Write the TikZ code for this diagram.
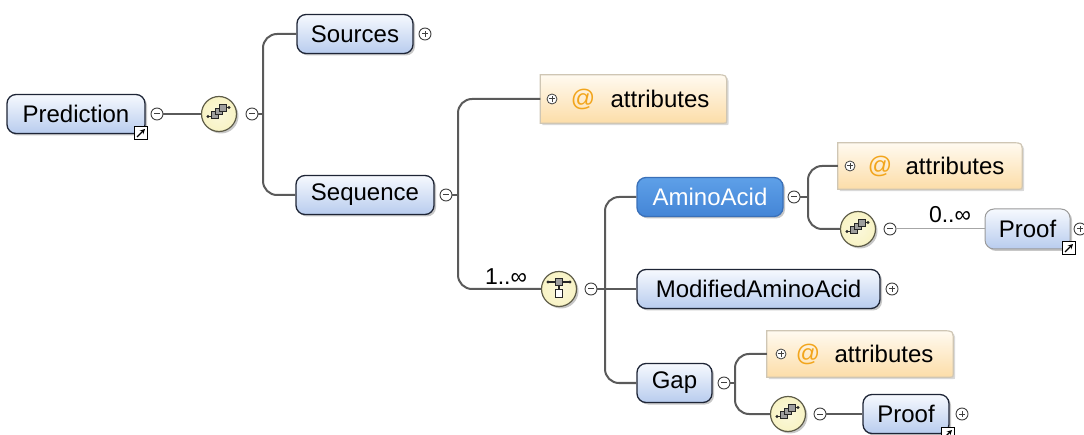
\documentclass[tikz,border=0pt]{standalone}
\usepackage{fontspec}
\setmainfont{Liberation Sans}
\usetikzlibrary{shadows,arrows.meta}
\definecolor{eltop}{HTML}{F6F9FE}
\definecolor{elbot}{HTML}{B8CCEE}
\definecolor{elborder}{HTML}{1E2536}
\definecolor{amtop}{HTML}{5EA0E8}
\definecolor{ambot}{HTML}{4485D6}
\definecolor{amborder}{HTML}{3A70B8}
\definecolor{attop}{HTML}{FFFAF0}
\definecolor{atbot}{HTML}{FCDDA8}
\definecolor{atborder}{HTML}{CFC6B4}
\definecolor{atsign}{HTML}{F2A51C}
\definecolor{compfill}{HTML}{F8F3C4}
\definecolor{compborder}{HTML}{5E5C48}
\definecolor{conncol}{HTML}{5A5A5A}
\definecolor{togc}{HTML}{404040}
\definecolor{optborder}{HTML}{9A9A9A}
\newcommand\attbox[5]{%
  \node[minimum width=#4, minimum height=#5, inner sep=0pt] (#1) at (#2,#3) {};
  \fill[black!15] ([xshift=2pt,yshift=-2pt]#1.south west) -- ([xshift=2pt,yshift=-2pt]#1.north west)
    -- ([xshift=-8pt,yshift=-2pt]#1.north east) .. controls ([xshift=2pt,yshift=-2pt]#1.north east) .. ([xshift=2pt,yshift=-12pt]#1.north east)
    -- ([xshift=2pt,yshift=1pt]#1.south east) .. controls ([xshift=2pt,yshift=-2pt]#1.south east) .. ([xshift=-1pt,yshift=-2pt]#1.south east) -- cycle;
  \shade[top color=attop, bottom color=atbot, draw=atborder, line width=1.2pt]
    (#1.south west) -- (#1.north west)
    -- ([xshift=-10pt]#1.north east) .. controls (#1.north east) .. ([yshift=-10pt]#1.north east)
    -- ([yshift=3pt]#1.south east) .. controls (#1.south east) .. ([xshift=-3pt]#1.south east) -- cycle;
}
\newcommand\seqglyph[1]{%
  \begin{scope}[shift={(#1.center)}]
    \draw[line width=1.1pt, black!85] (-11,2.5) -- (-6,2.5);
    \fill[black!85] (-11,2.5) circle (1.6);
    \draw[line width=1.1pt, black!85] (6,-6.5) -- (10,-6.5);
    \fill[black!85] (10,-6.5) circle (1.6);
    \filldraw[fill=black!38, draw=black!85, line width=0.9pt] (-7.5,-2.5) rectangle (-1,4);
    \filldraw[fill=black!38, draw=black!85, line width=0.9pt] (-3.3,-5.8) rectangle (3.2,0.7);
    \filldraw[fill=black!38, draw=black!85, line width=0.9pt] (0.8,-9.3) rectangle (7.3,-2.8);
  \end{scope}}
\newcommand\choiceglyph[1]{%
  \begin{scope}[shift={(#1.center)}]
    \draw[line width=1.1pt, black!85] (-11,-7) -- (11,-7);
    \fill[black!85] (-11,-7) circle (1.6);
    \fill[black!85] (11,-7) circle (1.6);
    \draw[line width=1.1pt, black!85] (0,-4) -- (0,1);
    \filldraw[fill=black!38, draw=black!85, line width=0.9pt] (-3.5,-10.5) rectangle (3.5,-3.5);
    \filldraw[fill=white, draw=black!85, line width=0.9pt] (-3.7,0.8) rectangle (3.7,8.2);
  \end{scope}}
\begin{document}
\begin{tikzpicture}[x=1pt,y=-1pt,
  shad/.style={drop shadow={shadow xshift=2pt, shadow yshift=-2pt, fill=black, opacity=0.22}},
  elem/.style={rectangle, rounded corners=9pt, draw=elborder, line width=1.3pt,
    top color=eltop, bottom color=elbot, text=black, inner sep=0pt,
    font=\fontsize{24}{28}\selectfont, minimum height=39pt, shad},
  optelem/.style={elem, draw=optborder, line width=1pt},
  selelem/.style={elem, draw=amborder, top color=amtop, bottom color=ambot, text=white},
  comp/.style={circle, minimum size=35pt, inner sep=0pt, draw=compborder, line width=1.2pt,
    inner color=compfill!60!white, outer color=compfill, shad},
  tog/.style={circle, draw=togc, line width=0.9pt, fill=white, minimum size=12pt, inner sep=0pt},
  minus/.style={tog, path picture={\draw[line width=1pt, togc] ([xshift=-3pt]path picture bounding box.center) -- ([xshift=3pt]path picture bounding box.center);}},
  plus/.style={tog, path picture={\draw[line width=1pt, togc] ([xshift=-3pt]path picture bounding box.center) -- ([xshift=3pt]path picture bounding box.center) ([yshift=-3pt]path picture bounding box.center) -- ([yshift=3pt]path picture bounding box.center);}},
  smallplus/.style={plus, minimum size=10pt, line width=0.8pt},
  ref/.style={rectangle, draw=black, line width=1pt, fill=white, minimum size=13pt, inner sep=0pt,
    path picture={\draw[line width=1.3pt, -{Stealth[length=5pt,width=5pt]}] ([xshift=-4pt,yshift=-4pt]path picture bounding box.center) -- ([xshift=4pt,yshift=4pt]path picture bounding box.center);}},
  conn/.style={draw=conncol, line width=2pt},
  optconn/.style={draw=black!35, line width=1pt},
  branch/.style={conn, rounded corners=14pt},
  lbl/.style={font=\fontsize{23}{27}\selectfont, text=black, inner sep=0pt},
  atext/.style={font=\fontsize{24}{28}\selectfont, text=black, inner sep=0pt},
  atsym/.style={font=\fontsize{24}{28}\selectfont, text=atsign, inner sep=0pt}]
\useasboundingbox (0,0) rectangle (1084,435);

% coordinates of branch points
\coordinate (b1) at (263,114);
\coordinate (b2) at (458,195);
\coordinate (b3) at (605,289);
\coordinate (b4) at (808,197);
\coordinate (b5) at (735,383);

% attribute boxes
\attbox{att1}{633.5}{99}{186}{48}
\attbox{att2}{930}{166}{184}{46}
\attbox{att3}{860}{354}{186}{46}

% elements
\node[elem, minimum width=138pt] (pred) at (76,114) {Prediction};
\node[comp] (s1) at (219,114) {};
\node[elem, minimum width=116pt] (sources) at (355,34) {Sources};
\node[elem, minimum width=138pt] (sequence) at (365,195) {Sequence};
\node[comp] (ch) at (559,289) {};
\node[selelem, minimum width=146pt] (amino) at (710,197) {AminoAcid};
\node[elem, minimum width=243pt] (modified) at (758.5,289) {ModifiedAminoAcid};
\node[elem, minimum width=75pt] (gap) at (674.5,383) {Gap};
\node[comp] (s2) at (858,229) {};
\node[optelem, minimum width=85pt, minimum height=40pt] (proof1) at (1027.5,229) {Proof};
\node[comp] (s3) at (788,414) {};
\node[elem, minimum width=86pt] (proof2) at (906,414) {Proof};

\seqglyph{s1}
\seqglyph{s2}
\seqglyph{s3}
\choiceglyph{ch}

% toggles
\node[minus] (predm) at (157,114) {};
\node[minus] (s1m) at (252,114) {};
\node[plus] (sourcesp) at (425,34) {};
\node[minus] (seqm) at (446,195) {};
\node[minus] (chm) at (591,289) {};
\node[minus] (aminom) at (794,197) {};
\node[plus] (modp) at (892,289) {};
\node[minus] (gapm) at (724,383) {};
\node[minus] (s2m) at (890,229) {};
\node[plus] (proof1p) at (1080,229) {};
\node[minus] (s3m) at (820,414) {};
\node[plus] (proof2p) at (962,414) {};

% attribute contents
\node[smallplus] (a1p) at (552,99) {};
\node[atsym] (a1at) at (583,99) {@};
\node[atext] (a1t) at (660,99) {attributes};
\node[smallplus] (a2p) at (850,166) {};
\node[atsym] (a2at) at (880,166) {@};
\node[atext] (a2t) at (955,166) {attributes};
\node[smallplus] (a3p) at (781,354) {};
\node[atsym] (a3at) at (808,354) {@};
\node[atext] (a3t) at (884,354) {attributes};

% reference icons
\node[ref] (predref) at (141,133) {};
\node[ref] (proof1ref) at (1069,248) {};
\node[ref] (proof2ref) at (948,434) {};

% cardinality labels
\node[lbl] (card1) at (506,277) {1..∞};
\node[lbl] (card2) at (950,215) {0..∞};

% connectors
\draw[conn] (predm.east) -- (s1.west);
\draw[conn] (s1m.east) -- (b1);
\draw[branch] (sources.west) -| (b1) |- (sequence.west);
\draw[conn] (seqm.east) -- (b2);
\draw[branch] (att1.west) -| (b2) |- (ch.west);
\draw[conn] (chm.east) -- (modified.west);
\draw[branch] (amino.west) -| (b3) |- (gap.west);
\draw[conn] (aminom.east) -- (b4);
\draw[branch] (att2.west) -| (b4) |- (s2.west);
\draw[optconn] (s2m.east) -- (proof1.west);
\draw[conn] (gapm.east) -- (b5);
\draw[branch] (att3.west) -| (b5) |- (s3.west);
\draw[conn] (s3m.east) -- (proof2.west);
\end{tikzpicture}
\end{document}
